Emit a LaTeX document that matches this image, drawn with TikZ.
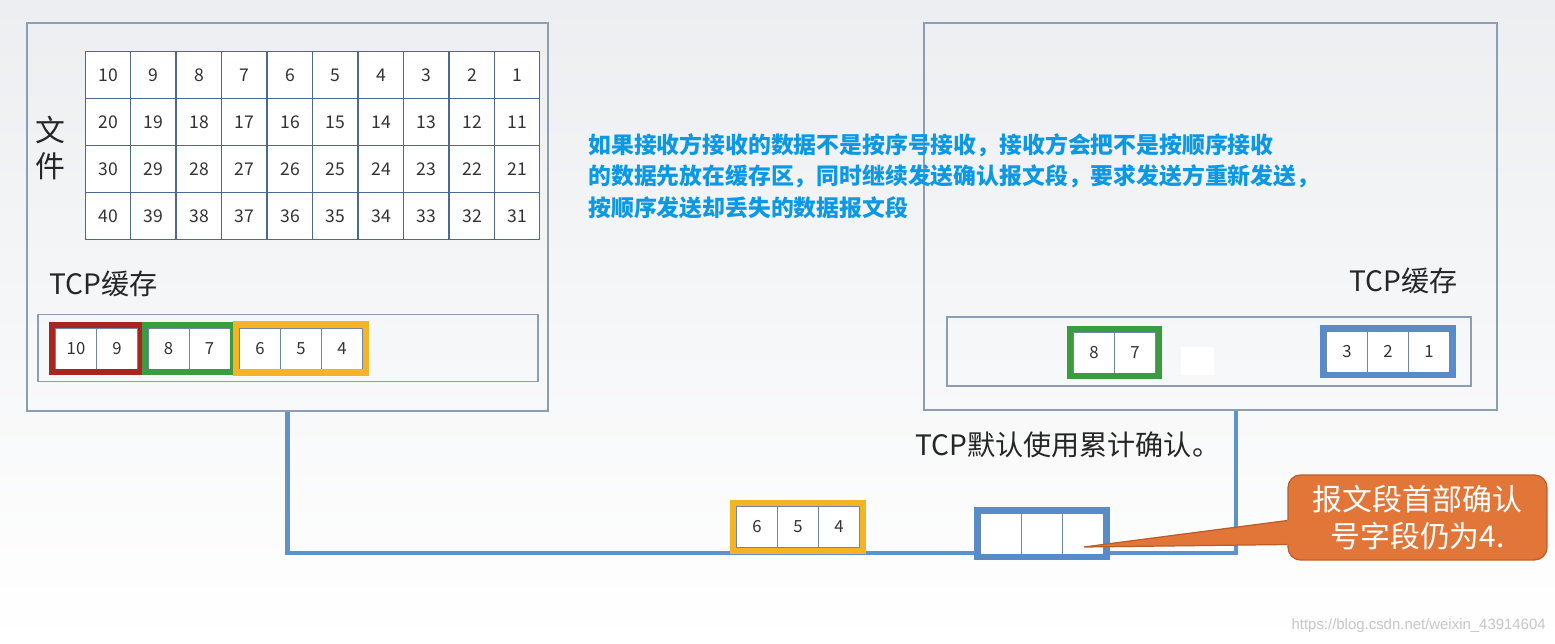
\documentclass[tikz,border=0pt]{standalone}
\usepackage{fontspec}
\setmainfont{Noto Sans CJK SC}
\newfontfamily\urlfont{Liberation Sans}
\usetikzlibrary{fit,calc}
\definecolor{boxgray}{RGB}{140,158,182}
\definecolor{cellline}{RGB}{75,105,145}
\definecolor{framered}{RGB}{168,38,30}
\definecolor{framegreen}{RGB}{58,156,62}
\definecolor{frameyellow}{RGB}{245,180,38}
\definecolor{frameblue}{RGB}{88,140,200}
\definecolor{linkblue}{RGB}{95,145,205}
\definecolor{noteblue}{RGB}{12,152,226}
\definecolor{calloutfill}{RGB}{226,118,56}
\definecolor{calloutdraw}{RGB}{190,92,38}
\definecolor{bgtop}{RGB}{236,238,241}
\begin{document}
\begin{tikzpicture}
     [
     x=0.02cm, y=-0.02cm,
     hostbox/.style={rectangle, draw=boxgray, line width=0.8pt, inner sep=0pt},
     filecell/.style={rectangle, draw=cellline, fill=white, line width=0.7pt, minimum width=0.91cm, minimum height=0.945cm, inner sep=0pt, text=black!80, font=\fontsize{10}{12}\selectfont},
     bufbox/.style={rectangle, draw=boxgray, line width=0.7pt, inner sep=0pt},
     bufcell/.style={rectangle, draw=cellline!80, fill=white, line width=0.5pt, minimum size=0.82cm, inner sep=0pt, text=black!80, font=\fontsize{9.5}{11}\selectfont},
     redframe/.style={rectangle, draw=framered, line width=3.4pt, inner sep=1.7pt},
     greenframe/.style={rectangle, draw=framegreen, line width=3.4pt, inner sep=1.7pt},
     yellowframe/.style={rectangle, draw=frameyellow, line width=3.6pt, inner sep=1.8pt},
     blueframe/.style={rectangle, draw=frameblue, line width=3.4pt, inner sep=1.7pt},
     textbox/.style={inner sep=0pt, text=black!85, font=\fontsize{16}{20}\selectfont},
     callout/.style={rectangle, rounded corners=0.25cm, fill=calloutfill, draw=calloutdraw, line width=0.7pt, minimum width=5.18cm, minimum height=1.7cm, align=center, text=white, font=\fontsize{17}{21.5}\selectfont},
     link/.style={draw=linkblue, line width=2.3pt},
     ]
 \useasboundingbox (0,0) rectangle (1555,644);
 \fill[top color=bgtop, bottom color=white] (0,0) rectangle (1555,644);
 % hosts
 \node at (287.5,217) [hostbox, minimum width=10.42cm, minimum height=7.76cm] (sender) {};
 \node at (1210.5,216.5) [hostbox, minimum width=11.46cm, minimum height=7.74cm] (receiver) {};
 % file
 \node at (50,148) [textbox, align=center, font=\fontsize{17}{20}\selectfont] (filelabel) {文\\件};
 \node at (108,75) [filecell] (f10) {10};
 \node at (153,75) [filecell] (f9) {9};
 \node at (199,75) [filecell] (f8) {8};
 \node at (244,75) [filecell] (f7) {7};
 \node at (290,75) [filecell] (f6) {6};
 \node at (335,75) [filecell] (f5) {5};
 \node at (381,75) [filecell] (f4) {4};
 \node at (426,75) [filecell] (f3) {3};
 \node at (472,75) [filecell] (f2) {2};
 \node at (517,75) [filecell] (f1) {1};
 \node at (108,122) [filecell] (f20) {20};
 \node at (153,122) [filecell] (f19) {19};
 \node at (199,122) [filecell] (f18) {18};
 \node at (244,122) [filecell] (f17) {17};
 \node at (290,122) [filecell] (f16) {16};
 \node at (335,122) [filecell] (f15) {15};
 \node at (381,122) [filecell] (f14) {14};
 \node at (426,122) [filecell] (f13) {13};
 \node at (472,122) [filecell] (f12) {12};
 \node at (517,122) [filecell] (f11) {11};
 \node at (108,169) [filecell] (f30) {30};
 \node at (153,169) [filecell] (f29) {29};
 \node at (199,169) [filecell] (f28) {28};
 \node at (244,169) [filecell] (f27) {27};
 \node at (290,169) [filecell] (f26) {26};
 \node at (335,169) [filecell] (f25) {25};
 \node at (381,169) [filecell] (f24) {24};
 \node at (426,169) [filecell] (f23) {23};
 \node at (472,169) [filecell] (f22) {22};
 \node at (517,169) [filecell] (f21) {21};
 \node at (108,216) [filecell] (f40) {40};
 \node at (153,216) [filecell] (f39) {39};
 \node at (199,216) [filecell] (f38) {38};
 \node at (244,216) [filecell] (f37) {37};
 \node at (290,216) [filecell] (f36) {36};
 \node at (335,216) [filecell] (f35) {35};
 \node at (381,216) [filecell] (f34) {34};
 \node at (426,216) [filecell] (f33) {33};
 \node at (472,216) [filecell] (f32) {32};
 \node at (517,216) [filecell] (f31) {31};
 % sender buffer
 \node at (49,284) [textbox, anchor=west] (sendlabel) {TCP缓存};
 \node at (288,348) [bufbox, minimum width=10cm, minimum height=1.34cm] (sendbuf) {};
 \node at (76,348.5) [bufcell] (b10) {10};
 \node at (117,348.5) [bufcell] (b9) {9};
 \node at (168.5,348.5) [bufcell] (b8) {8};
 \node at (209.5,348.5) [bufcell] (b7) {7};
 \node at (260,348.5) [bufcell] (b6) {6};
 \node at (301,348.5) [bufcell] (b5) {5};
 \node at (342,348.5) [bufcell] (b4) {4};
 \node [redframe, fit=(b10)(b9)] (sendred) {};
 \node [greenframe, fit=(b8)(b7)] (sendgreen) {};
 \node [yellowframe, fit=(b6)(b4)] (sendyellow) {};
 % receiver buffer
 \node at (1349,281) [textbox, anchor=west] (recvlabel) {TCP缓存};
 \node at (1209,351.5) [bufbox, minimum width=10.48cm, minimum height=1.38cm] (recvbuf) {};
 \node at (1094,352.5) [bufcell] (r8) {8};
 \node at (1135,352.5) [bufcell] (r7) {7};
 \node at (1197.5,361) [rectangle, fill=white, minimum width=0.66cm, minimum height=0.56cm, inner sep=0pt] (gap) {};
 \node at (1347,351.5) [bufcell] (r3) {3};
 \node at (1388,351.5) [bufcell] (r2) {2};
 \node at (1429,351.5) [bufcell] (r1) {1};
 \node [greenframe, fit=(r8)(r7)] (recvgreen) {};
 \node [blueframe, fit=(r3)(r1)] (recvblue) {};
 % note
 \node at (588,176) [anchor=west, align=left, inner sep=0pt, text=noteblue, font=\bfseries\fontsize{13}{18}\selectfont] (note) {如果接收方接收的数据不是按序号接收，接收方会把不是按顺序接收\\的数据先放在缓存区，同时继续发送确认报文段，要求发送方重新发送，\\按顺序发送却丢失的数据报文段};
 % link
 \coordinate (corner) at (1236,553);
 \draw[link] (sender.south) |- (corner) -- (corner |- receiver.south);
 \node at (915,445) [textbox, anchor=west] (acklabel) {TCP默认使用累计确认。};
 % segments
 \node at (757,527) [bufcell] (s6) {6};
 \node at (798,527) [bufcell] (s5) {5};
 \node at (839,527) [bufcell] (s4) {4};
 \node [yellowframe, fit=(s6)(s4)] (dataseg) {};
 \node at (1001,533.5) [bufcell] (a1) {};
 \node at (1042,533.5) [bufcell] (a2) {};
 \node at (1083,533.5) [bufcell] (a3) {};
 \node [blueframe, fit=(a1)(a3)] (ackseg) {};
 % callout
 \node at (1417.5,517.5) [callout] (ackfield) {报文段首部确认\\号字段仍为4.};
 \coordinate (tip) at (1084,547);
 \fill[calloutfill] (tip) -- ($(ackfield.west)+(0,3)$) -- ($(ackfield.west)+(10,3)$) -- ($(ackfield.west)+(10,27)$) -- ($(ackfield.west)+(0,27)$) -- cycle;
 \draw[calloutdraw, line width=0.7pt] ($(ackfield.west)+(0,3)$) -- (tip) -- ($(ackfield.west)+(0,27)$);
 \node at (1546,626) [anchor=east, inner sep=0pt, text=black!22, font=\urlfont\fontsize{8.5}{10}\selectfont] (mark) {https://blog.csdn.net/weixin\_43914604};
 \end{tikzpicture}
\end{document}
